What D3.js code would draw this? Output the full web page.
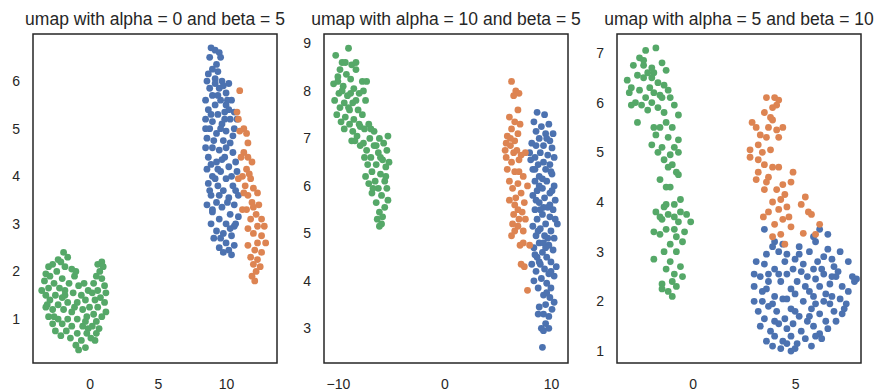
<!DOCTYPE html>
<html>
<head>
<meta charset="utf-8">
<script src="https://cdn.jsdelivr.net/npm/d3@7"></script>
<style>
  body { margin: 0; background: #fff; }
  svg text { font-family: "Liberation Sans", Arial, sans-serif; fill: #262626; }
</style>
</head>
<body>
<div id="chart"></div>
<script>
// panel titles and ticks
const titles = [
  "umap with alpha = 0 and beta = 5",
  "umap with alpha = 10 and beta = 5",
  "umap with alpha = 5 and beta = 10"
];
const xTicks = [[0, 5, 10], [-10, 0, 10], [0, 5]];
const yTicks = [[1, 2, 3, 4, 5, 6], [3, 4, 5, 6, 7, 8, 9], [1, 2, 3, 4, 5, 6, 7]];

// panel 1 : alpha = 0, beta = 5
const p1Blue = [[8.9,6.7],[9.2,6.65],[9.5,6.6],[8.8,6.5],[9.3,6.35],[9.0,6.25],[9.4,6.2],[8.6,6.0],[9.2,6.05],[9.7,6.0],[10.2,5.95],[8.8,5.85],[9.5,5.85],[9.0,5.7],[10.0,5.75],[8.5,5.6],[9.6,5.6],[10.4,5.6],[9.2,5.5],[10.0,5.5],[8.7,5.4],[9.9,5.35],[10.6,5.35],[9.4,5.3],[8.5,5.2],[9.0,5.15],[10.3,5.2],[9.7,5.1],[8.8,5.0],[10.0,4.95],[10.6,5.0],[9.3,4.9],[8.6,4.8],[9.8,4.75],[10.3,4.7],[9.0,4.6],[9.5,4.55],[10.5,4.5],[8.7,4.4],[9.9,4.4],[9.3,4.3],[10.2,4.2],[8.6,4.15],[9.6,4.1],[10.8,4.1],[9.0,4.0],[10.0,3.95],[8.7,3.85],[9.4,3.8],[10.5,3.8],[9.8,3.7],[8.9,3.6],[10.9,3.6],[10.2,3.55],[9.3,3.45],[8.6,3.4],[10.6,3.4],[9.7,3.35],[9.0,3.25],[10.3,3.2],[10.9,3.15],[9.5,3.1],[8.9,3.0],[10.0,3.0],[10.6,2.95],[9.3,2.85],[9.8,2.8],[10.4,2.75],[9.1,2.7],[10.0,2.6],[10.6,2.55],[9.5,2.5],[10.2,2.45],[9.8,2.4],[10.4,2.35],[9.6,6.5],[8.7,6.15],[9.8,5.9],[9.4,5.7],[10.2,5.4],[8.9,5.3],[9.6,5.0],[10.8,5.2],[9.1,4.75],[10.0,4.6],[8.9,4.25],[9.7,4.35],[10.4,4.0],[9.2,3.95],[8.8,3.7],[10.1,3.45],[9.5,3.6],[10.7,3.0],[9.6,2.7],[10.3,2.9],[9.2,5.95],[9.9,5.2],[10.5,4.85],[9.4,4.15],[10.7,3.7],[9.0,3.3],[8.5,4.6],[8.5,5.0],[10.1,5.6],[10.7,4.3]];
const p1Orange = [[11.0,5.8],[10.8,5.35],[10.9,5.2],[11.3,5.0],[11.0,4.95],[11.6,4.7],[11.3,4.5],[11.6,4.4],[11.1,4.4],[11.9,4.3],[11.5,4.15],[11.2,4.0],[11.8,3.95],[10.9,3.95],[11.4,3.8],[12.0,3.75],[11.6,3.6],[12.3,3.65],[11.9,3.45],[12.4,3.4],[11.5,3.3],[12.2,3.2],[11.8,3.1],[12.6,3.1],[12.3,2.95],[11.6,2.9],[12.0,2.8],[12.6,2.75],[12.9,2.6],[12.3,2.6],[12.1,2.45],[12.6,2.4],[11.8,2.3],[12.3,2.25],[12.0,2.15],[12.5,2.1],[12.2,2.0],[11.9,1.9],[12.1,1.8],[11.2,3.3],[11.7,4.05],[12.8,2.95],[11.3,3.65],[12.0,3.35],[11.6,2.55],[11.5,4.9]];
const p1Green = [[-1.9,2.4],[-1.6,2.3],[-2.3,2.25],[-2.7,2.15],[-3.0,2.1],[-1.8,2.1],[-1.3,2.05],[-2.4,2.0],[-3.2,1.95],[-2.9,1.9],[-1.1,1.9],[-2.0,1.85],[-3.3,1.8],[-2.6,1.75],[-1.5,1.75],[-0.8,1.7],[-3.0,1.65],[-2.2,1.65],[-1.8,1.6],[-3.5,1.6],[-3.2,1.5],[-2.5,1.5],[-1.2,1.55],[-0.6,1.5],[-2.0,1.45],[-2.9,1.4],[-1.6,1.35],[-3.1,1.3],[-2.3,1.3],[-0.9,1.35],[-0.3,1.4],[-2.7,1.2],[-1.9,1.2],[-1.3,1.15],[-0.5,1.2],[-3.0,1.05],[-2.3,1.0],[-1.6,1.0],[-0.9,1.0],[-2.7,0.9],[-2.0,0.9],[-1.3,0.85],[-0.3,0.95],[-2.5,0.75],[-1.7,0.75],[-0.9,0.7],[-0.1,0.8],[-2.1,0.65],[-1.4,0.6],[-0.6,0.55],[0.1,0.6],[-1.0,0.45],[-0.3,0.4],[-0.8,0.35],[0.4,0.55],[-0.2,0.7],[0.6,2.15],[0.9,2.2],[1.0,2.1],[0.75,2.0],[0.5,1.9],[0.9,1.85],[0.3,1.75],[1.1,1.7],[0.6,1.6],[0.2,1.55],[1.2,1.55],[0.8,1.45],[-0.1,1.6],[0.4,1.4],[1.1,1.35],[0.0,1.25],[0.6,1.25],[1.2,1.15],[0.3,1.1],[0.9,1.05],[-0.2,1.05],[0.5,0.95],[0.2,0.85],[0.7,0.8],[0.5,0.7],[-0.5,0.85],[-1.1,1.25],[-1.8,1.5],[-2.6,1.05],[-3.2,1.25],[-0.4,1.75],[-1.0,2.0],[-2.1,2.2]];

// panel 2 : alpha = 10, beta = 5
const p2Blue = [[8.7,7.55],[9.4,7.5],[8.4,7.35],[9.8,7.3],[9.1,7.25],[8.6,7.15],[9.5,7.1],[10.2,7.1],[8.9,7.0],[9.9,6.95],[8.2,6.9],[8.6,6.85],[9.3,6.85],[10.1,6.8],[8.0,6.7],[9.0,6.7],[9.7,6.65],[8.5,6.6],[10.3,6.6],[9.3,6.5],[8.8,6.45],[9.9,6.45],[8.3,6.35],[9.5,6.35],[10.1,6.25],[8.9,6.2],[8.5,6.1],[9.6,6.1],[10.3,6.0],[9.2,5.95],[8.7,5.9],[9.9,5.85],[8.3,5.8],[9.4,5.75],[10.4,5.7],[8.9,5.65],[9.7,5.55],[8.5,5.5],[10.2,5.5],[9.2,5.4],[9.9,5.35],[8.7,5.3],[10.6,5.2],[9.5,5.2],[8.3,5.15],[9.0,5.1],[10.0,5.05],[8.6,4.95],[9.4,4.95],[10.3,4.9],[8.9,4.8],[9.8,4.75],[8.4,4.7],[10.2,4.65],[9.2,4.6],[8.7,4.5],[9.6,4.5],[10.0,4.4],[8.2,4.35],[9.0,4.35],[10.5,4.3],[9.4,4.25],[8.6,4.2],[9.8,4.15],[10.3,4.1],[9.1,4.05],[8.4,4.0],[9.6,3.95],[10.0,3.85],[8.8,3.85],[9.3,3.7],[9.9,3.65],[10.3,3.55],[9.5,3.5],[8.9,3.45],[10.1,3.4],[9.3,3.3],[9.8,3.25],[8.8,3.3],[9.5,3.1],[9.1,3.0],[9.8,3.0],[9.3,2.95],[9.2,2.6],[9.6,7.0],[8.9,6.0],[9.3,5.55],[10.1,5.9],[8.6,5.7],[9.7,4.9],[8.9,4.4],[9.3,4.8],[10.0,4.2],[9.5,4.7],[10.4,5.3],[8.5,6.35],[9.2,6.15],[10.0,6.3],[8.8,5.05],[9.6,3.75],[8.5,4.55],[9.0,5.5],[9.9,5.6],[8.1,6.55]];
const p2Orange = [[6.3,8.2],[6.7,8.0],[7.0,7.95],[6.5,7.9],[6.9,7.6],[6.1,7.45],[6.6,7.35],[7.1,7.3],[6.3,7.2],[6.9,7.1],[5.9,7.05],[6.6,6.95],[6.2,6.85],[5.7,6.75],[6.5,6.7],[7.2,6.65],[7.6,6.7],[5.8,6.6],[6.3,6.5],[7.0,6.55],[5.9,6.35],[6.6,6.3],[7.4,6.2],[6.1,6.1],[6.9,6.05],[7.8,6.0],[6.4,5.95],[7.2,5.85],[6.7,5.75],[7.5,5.65],[6.1,5.7],[6.9,5.5],[7.3,5.45],[6.5,5.4],[7.0,5.3],[6.4,5.2],[7.6,5.3],[6.9,5.15],[6.6,5.05],[7.4,5.05],[6.3,4.95],[7.1,4.75],[7.4,4.8],[8.0,4.75],[7.2,4.35],[7.5,4.3],[7.8,3.8],[6.2,7.0],[7.0,6.3],[6.6,5.6],[5.8,6.9],[6.8,6.75]];
const p2Green = [[-9.0,8.9],[-10.2,8.75],[-9.6,8.6],[-9.3,8.6],[-8.7,8.55],[-9.8,8.45],[-8.3,8.45],[-9.2,8.35],[-10.0,8.3],[-8.8,8.25],[-7.7,8.2],[-7.3,8.2],[-10.4,8.15],[-9.5,8.1],[-8.5,8.05],[-7.6,8.0],[-9.9,7.95],[-9.1,7.9],[-8.0,7.95],[-10.3,7.8],[-9.4,7.75],[-8.6,7.75],[-7.4,7.8],[-9.8,7.65],[-8.9,7.6],[-8.1,7.6],[-7.7,7.5],[-10.1,7.5],[-9.3,7.45],[-8.5,7.4],[-9.7,7.35],[-8.9,7.3],[-8.0,7.3],[-7.1,7.3],[-9.4,7.2],[-8.6,7.15],[-7.5,7.2],[-6.6,7.15],[-8.2,7.05],[-7.0,7.0],[-6.1,7.0],[-5.3,7.05],[-8.7,6.95],[-7.6,6.9],[-6.6,6.85],[-5.7,6.9],[-7.3,6.75],[-6.2,6.7],[-5.4,6.75],[-7.9,6.85],[-6.9,6.6],[-5.8,6.55],[-7.2,6.45],[-6.4,6.45],[-5.5,6.4],[-6.8,6.3],[-6.0,6.25],[-7.4,6.2],[-6.5,6.1],[-5.6,6.1],[-7.1,6.05],[-6.2,5.95],[-5.4,5.95],[-6.8,5.85],[-5.9,5.8],[-5.3,5.7],[-6.4,5.65],[-5.6,5.55],[-6.1,5.45],[-5.8,5.35],[-6.3,5.3],[-5.9,5.2],[-6.1,5.15],[-8.3,8.6],[-9.6,8.0],[-8.3,7.8],[-10.0,8.2],[-8.4,6.95],[-6.9,7.2],[-6.0,6.6],[-7.5,6.6],[-5.5,6.2],[-6.7,5.95],[-5.2,6.5],[-8.8,7.95],[-9.0,7.65],[-7.9,7.25],[-6.4,6.85]];

// panel 3 : alpha = 5, beta = 10
const p3Blue = [[3.5,3.45],[6.2,3.45],[6.6,3.35],[4.0,3.2],[3.9,3.1],[5.2,3.1],[6.0,3.2],[5.7,3.0],[4.2,3.0],[4.6,2.95],[6.6,3.05],[7.2,3.0],[3.6,2.95],[6.4,2.9],[5.0,2.85],[3.1,2.8],[4.5,2.8],[5.4,2.75],[6.1,2.8],[7.6,2.8],[3.5,2.75],[5.9,2.65],[4.0,2.65],[6.9,2.7],[3.0,2.55],[3.3,2.5],[4.6,2.55],[5.6,2.5],[6.4,2.55],[7.0,2.5],[8.0,2.45],[3.7,2.4],[4.3,2.4],[5.1,2.4],[6.0,2.45],[6.7,2.35],[7.9,2.4],[3.0,2.3],[3.6,2.25],[4.8,2.25],[5.5,2.3],[6.2,2.3],[7.3,2.3],[7.6,2.2],[4.0,2.1],[5.0,2.15],[5.9,2.1],[6.8,2.1],[7.2,2.05],[3.0,2.0],[3.4,2.0],[4.4,2.05],[5.4,2.0],[6.4,2.0],[6.7,1.95],[7.5,1.95],[3.7,1.9],[4.8,1.85],[5.8,1.85],[6.9,1.8],[7.3,1.75],[3.2,1.8],[4.1,1.8],[5.2,1.7],[6.2,1.75],[7.4,1.85],[3.5,1.65],[4.5,1.65],[5.6,1.6],[6.5,1.6],[7.0,1.6],[3.3,1.5],[4.2,1.55],[4.9,1.55],[5.9,1.5],[6.6,1.45],[3.8,1.4],[4.6,1.45],[5.3,1.4],[6.2,1.35],[4.0,1.3],[4.8,1.3],[5.5,1.25],[6.0,1.3],[3.6,1.2],[4.4,1.2],[5.1,1.15],[5.8,1.1],[3.9,1.1],[4.3,1.05],[4.8,1.0],[5.0,1.05],[4.6,1.15],[6.3,1.25],[3.7,2.55],[4.9,2.65],[6.3,2.65],[5.2,2.95],[4.4,3.15],[5.9,3.3],[6.8,2.85],[7.1,2.6],[3.9,1.95],[4.6,2.05],[5.7,2.2],[6.5,2.15],[7.8,2.5],[4.2,2.55],[5.3,2.6],[6.0,1.95],[5.0,1.8],[4.0,1.6],[5.7,1.7],[3.4,2.2],[6.8,2.5]];
const p3Orange = [[3.6,6.1],[4.0,6.1],[4.2,6.05],[4.1,5.95],[3.9,5.9],[3.5,5.8],[3.8,5.7],[3.9,5.65],[2.9,5.6],[3.1,5.5],[3.7,5.5],[4.4,5.5],[4.1,5.45],[3.3,5.35],[3.6,5.3],[4.2,5.3],[3.2,5.15],[3.8,5.05],[3.4,5.0],[2.8,5.05],[2.8,4.9],[3.2,4.85],[3.5,4.75],[3.9,4.7],[4.2,4.7],[3.2,4.6],[3.7,4.5],[4.9,4.6],[3.1,4.45],[3.6,4.4],[4.4,4.35],[4.8,4.4],[3.5,4.25],[4.1,4.25],[4.5,4.15],[5.5,4.1],[3.9,4.0],[4.3,4.05],[5.3,3.95],[4.6,3.9],[4.2,3.85],[3.7,3.8],[4.7,3.7],[4.4,3.65],[5.8,3.75],[6.2,3.55],[4.0,3.55],[4.8,3.5],[3.45,3.7],[4.3,3.35],[5.4,3.37],[4.5,3.15],[5.65,3.8],[6.0,3.35],[3.9,3.3]];
const p3Green = [[-1.8,7.1],[-2.3,7.05],[-2.6,6.9],[-2.4,6.85],[-2.0,6.7],[-1.5,6.8],[-2.9,6.75],[-2.2,6.6],[-1.9,6.6],[-1.3,6.65],[-2.7,6.55],[-3.2,6.45],[-2.4,6.5],[-1.7,6.4],[-3.0,6.3],[-2.1,6.3],[-1.4,6.35],[-2.6,6.25],[-1.9,6.2],[-1.2,6.25],[-3.1,6.2],[-2.3,6.1],[-1.5,6.1],[-2.8,6.0],[-2.0,6.0],[-1.1,6.1],[-2.5,5.95],[-1.7,5.9],[-0.9,5.95],[-3.0,5.95],[-2.2,5.85],[-1.4,5.8],[-0.7,5.75],[-2.7,5.6],[-1.6,5.5],[-1.0,5.5],[-1.8,5.35],[-1.2,5.3],[-0.7,5.25],[-2.0,5.15],[-1.5,5.1],[-0.9,5.1],[-1.7,5.0],[-1.1,4.95],[-0.7,5.0],[-1.4,4.85],[-1.0,4.75],[-0.8,4.6],[-1.2,4.7],[-0.7,4.55],[-1.6,4.45],[-1.3,4.3],[-1.1,4.3],[-0.6,4.05],[-0.9,3.95],[-1.3,3.95],[-1.8,3.8],[-0.6,3.8],[-1.2,3.75],[-0.3,3.75],[-0.9,3.7],[-1.5,3.65],[-0.1,3.6],[-0.7,3.6],[-1.9,3.4],[-1.3,3.45],[-0.4,3.4],[-1.6,3.35],[-0.8,3.3],[-1.1,3.15],[-0.5,3.2],[-1.4,3.0],[-0.8,3.0],[-1.9,2.85],[-1.1,2.8],[-0.6,2.7],[-1.3,2.65],[-0.9,2.55],[-0.5,2.5],[-1.0,2.4],[-1.5,2.35],[-0.8,2.3],[-1.2,2.2],[-1.5,2.25],[-1.0,2.1],[-2.0,6.5],[-1.6,6.15],[-2.4,6.75],[-1.3,5.6],[-1.9,5.5],[-0.9,3.45],[-1.6,3.7],[-1.4,3.9]];

const blue = "#4c72b0", orange = "#dd8452", green = "#55a868";

const panels = [
  { title: titles[0], xt: xTicks[0], yt: yTicks[0], left: 33, xDom: [-4.14, 13.73], yDom: [0.076, 6.99],
    series: [[p1Blue, blue], [p1Orange, orange], [p1Green, green]] },
  { title: titles[1], xt: xTicks[1], yt: yTicks[1], left: 324, xDom: [-11.3, 11.6], yDom: [2.27, 9.2],
    series: [[p2Blue, blue], [p2Orange, orange], [p2Green, green]] },
  { title: titles[2], xt: xTicks[2], yt: yTicks[2], left: 617, xDom: [-3.7, 8.22], yDom: [0.76, 7.38],
    series: [[p3Blue, blue], [p3Orange, orange], [p3Green, green]] }
];

const W = 875, H = 392;
const pw = 244, plotTop = 34, ph = 329;
const fmt = d => d < 0 ? "\u2212" + Math.abs(d) : String(d);

const svg = d3.select("#chart").append("svg")
  .attr("width", W).attr("height", H);

panels.forEach(p => {
  const x = d3.scaleLinear().domain(p.xDom).range([p.left, p.left + pw]);
  const y = d3.scaleLinear().domain(p.yDom).range([plotTop + ph, plotTop]);
  const g = svg.append("g");

  p.series.forEach(([pts, col]) => {
    g.selectAll(null).data(pts).enter().append("circle")
      .attr("cx", d => x(d[0]))
      .attr("cy", d => y(d[1]))
      .attr("r", 3.4)
      .attr("fill", col);
  });

  // no tick marks in seaborn "white", just labels
  const xAxis = d3.axisBottom(x).tickValues(p.xt).tickSize(0).tickPadding(16).tickFormat(fmt);
  const xg = g.append("g").attr("transform", `translate(0,${plotTop + ph})`).call(xAxis);
  xg.select(".domain").remove();
  xg.attr("font-family", null);
  xg.selectAll("text").attr("font-size", 14);

  const yAxis = d3.axisLeft(y).tickValues(p.yt).tickSize(0).tickPadding(13).tickFormat(fmt);
  const yg = g.append("g").attr("transform", `translate(${p.left},0)`).call(yAxis);
  yg.select(".domain").remove();
  yg.attr("font-family", null);
  yg.selectAll("text").attr("font-size", 14);

  g.append("rect")
    .attr("x", p.left).attr("y", plotTop)
    .attr("width", pw).attr("height", ph)
    .attr("fill", "none").attr("stroke", "#262626").attr("stroke-width", 1.5);

  g.append("text")
    .attr("x", p.left + pw / 2).attr("y", 25)
    .attr("text-anchor", "middle")
    .attr("font-size", 17.5)
    .text(p.title);
});
</script>
</body>
</html>
